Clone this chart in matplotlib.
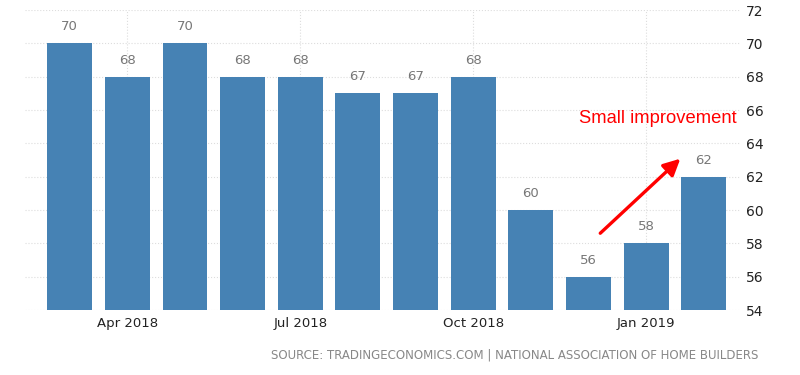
import matplotlib
matplotlib.use("Agg")
import matplotlib.pyplot as plt
import numpy as np

# NAHB housing market index, Mar 2018 - Feb 2019
months = ['Mar 2018', 'Apr 2018', 'May 2018', 'Jun 2018', 'Jul 2018', 'Aug 2018',
          'Sep 2018', 'Oct 2018', 'Nov 2018', 'Dec 2018', 'Jan 2019', 'Feb 2019']
values = [70, 68, 70, 68, 68, 67, 67, 68, 60, 56, 58, 62]
tick_labels = ['Apr 2018', 'Jul 2018', 'Oct 2018', 'Jan 2019']
y_ticks = [54, 56, 58, 60, 62, 64, 66, 68, 70, 72]

fig = plt.figure(figsize=(8, 3.75), dpi=100)
ax = fig.add_axes([0.031, 0.173, 0.894, 0.8])

x = np.arange(len(months))
base = 54
ax.bar(x, np.array(values) - base, bottom=base, width=0.78, color='#4682b4', zorder=2)

for xi, v in zip(x, values):
    ax.text(xi, v + 0.6, str(v), ha='center', va='bottom', color='#777777', fontsize=9.5)

ax.set_xlim(-0.78, 11.63)
ax.set_ylim(54, 72)
ax.set_yticks(y_ticks)
ax.yaxis.tick_right()
ax.tick_params(axis='y', length=0, labelsize=10, colors='#222222', pad=4)

tick_pos = [months.index(t) for t in tick_labels]
ax.set_xticks(tick_pos)
ax.set_xticklabels(tick_labels)
ax.tick_params(axis='x', length=0, labelsize=9.5, colors='#222222', pad=5)

ax.grid(True, axis='both', color='#dddddd', linestyle=':', linewidth=0.8, zorder=0)
for s in ax.spines.values():
    s.set_visible(False)

# annotation
ax.annotate('', xy=(10.63, 63.2), xytext=(9.17, 58.5),
            arrowprops=dict(arrowstyle='-|>,head_length=1.0,head_width=0.5',
                            color='#ff0000', lw=2.4))
ax.text(10.2, 65.5, 'Small improvement', color='#ff0000', fontsize=13.2,
        ha='center', va='center', family='Liberation Sans')

fig.text(0.948, 0.053, 'SOURCE: TRADINGECONOMICS.COM | NATIONAL ASSOCIATION OF HOME BUILDERS',
         ha='right', va='center', color='#888888', fontsize=8.5)

fig.savefig('out.png', dpi=100)
